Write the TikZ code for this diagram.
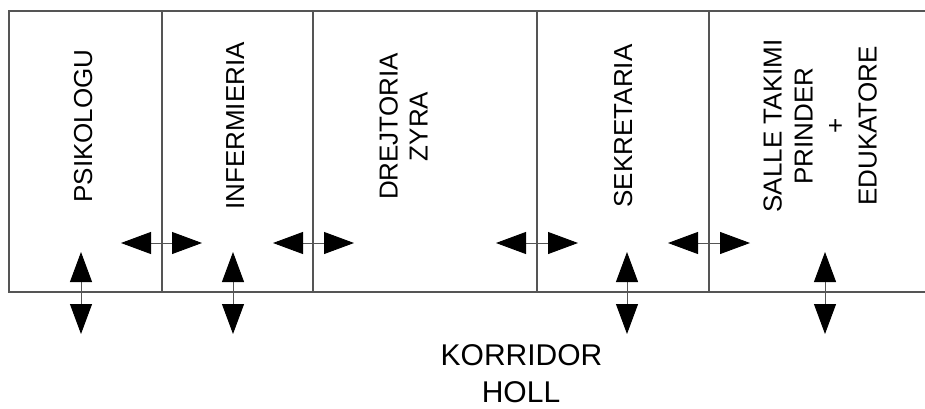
\documentclass[tikz,border=0pt]{standalone}
\usepackage{fontspec}
\setmainfont{Liberation Sans}
\usetikzlibrary{arrows.meta}
\definecolor{wallgray}{RGB}{85,85,85}
\tikzset{
  wall/.style={draw=wallgray, line width=1.2pt},
  door/.style={draw=wallgray, line width=0.9pt,
    {Triangle[length=30pt,width=22pt,color=black]}-{Triangle[length=30pt,width=22pt,color=black]}},
  roomlabel/.style={rotate=90, inner sep=0pt, anchor=base,
    font=\fontsize{26}{31.7}\selectfont},
  halllabel/.style={inner sep=0pt, anchor=base, text depth=0pt,
    font=\fontsize{30}{37}\selectfont}
}
\begin{document}
\begin{tikzpicture}[x=1pt,y=-1pt]
\useasboundingbox (0,0) rectangle (925,409);
% walls
\draw[wall] (925,11) -- (9,11) -- (9,292) -- (925,292);
\foreach \x in {162,313,537,709} \draw[wall] (\x,11) -- (\x,292);
% room labels (baseline positions)
\node[roomlabel] (psik) at (92,126) {PSIKOLOGU};
\node[roomlabel] (inf) at (244,126) {INFERMIERIA};
\node[roomlabel] (drej1) at (397.5,126.5) {DREJTORIA};
\node[roomlabel] (drej2) at (427.5,126.5) {ZYRA};
\node[roomlabel] (sekr) at (632,126) {SEKRETARIA};
\node[roomlabel] (salle1) at (781.5,126) {SALLE TAKIMI};
\node[roomlabel] (salle2) at (812.5,126) {PRINDER};
\node[roomlabel] (salle3) at (844,126) {+};
\node[roomlabel] (salle4) at (876.5,126) {EDUKATORE};
\node[halllabel] (hall1) at (521.5,365.5) {KORRIDOR};
\node[halllabel] (hall2) at (521,402) {HOLL};
% door coordinates: horizontal
\coordinate (h1a) at (121,243); \coordinate (h1b) at (202,243);
\coordinate (h2a) at (273,243); \coordinate (h2b) at (354,243);
\coordinate (h3a) at (496,243); \coordinate (h3b) at (578,243);
\coordinate (h4a) at (668,243); \coordinate (h4b) at (750,243);
% vertical
\coordinate (v1a) at (81,252); \coordinate (v1b) at (81,334);
\coordinate (v2a) at (233,252); \coordinate (v2b) at (233,334);
\coordinate (v3a) at (627,252); \coordinate (v3b) at (627,334);
\coordinate (v4a) at (825,252); \coordinate (v4b) at (825,334);
\foreach \p in {h1,h2,h3,h4,v1,v2,v3,v4} \draw[door] (\p a) -- (\p b);
\end{tikzpicture}
\end{document}
